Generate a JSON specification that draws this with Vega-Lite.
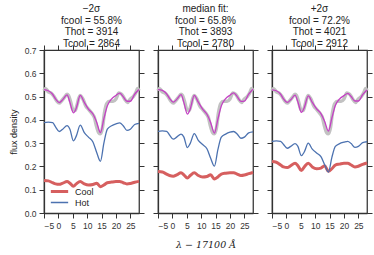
{
"$schema":"https://vega.github.io/schema/vega-lite/v6.json",
"padding":{"left":8,"top":3,"right":0,"bottom":4},
"datasets":{
"obs":[
{"x":-5,"y":0.525},{"x":-4.5,"y":0.535},{"x":-3.5,"y":0.52},{"x":-2.5,"y":0.515},{"x":-1.5,"y":0.5},{"x":-0.5,"y":0.48},{"x":0.3,"y":0.472},{"x":1,"y":0.48},{"x":2,"y":0.495},{"x":3,"y":0.51},{"x":3.5,"y":0.505},{"x":4.2,"y":0.48},{"x":5,"y":0.445},{"x":5.8,"y":0.44},{"x":6.5,"y":0.465},{"x":7.5,"y":0.505},{"x":8.5,"y":0.49},{"x":9.5,"y":0.46},{"x":10.5,"y":0.445},{"x":11.5,"y":0.43},{"x":12.5,"y":0.41},{"x":13.3,"y":0.37},{"x":14,"y":0.345},{"x":14.6,"y":0.34},{"x":15.3,"y":0.365},{"x":16,"y":0.43},{"x":16.8,"y":0.47},{"x":17.8,"y":0.48},{"x":19,"y":0.48},{"x":20,"y":0.49},{"x":21,"y":0.515},{"x":22,"y":0.51},{"x":23,"y":0.49},{"x":24,"y":0.475},{"x":25,"y":0.49},{"x":26,"y":0.5},{"x":27,"y":0.52},{"x":27.5,"y":0.535},{"x":28,"y":0.525}
],
"model":[
{"p":1,"x":-5,"Fit":0.53,"Hot":0.388,"Cool":0.14},
{"p":1,"x":-3.5,"Fit":0.525,"Hot":0.39,"Cool":0.138},
{"p":1,"x":-2,"Fit":0.51,"Hot":0.388,"Cool":0.13},
{"p":1,"x":-1,"Fit":0.49,"Hot":0.37,"Cool":0.125},
{"p":1,"x":0.3,"Fit":0.474,"Hot":0.35,"Cool":0.123},
{"p":1,"x":1.5,"Fit":0.487,"Hot":0.36,"Cool":0.128},
{"p":1,"x":3,"Fit":0.507,"Hot":0.375,"Cool":0.135},
{"p":1,"x":4,"Fit":0.475,"Hot":0.36,"Cool":0.128},
{"p":1,"x":5.2,"Fit":0.43,"Hot":0.31,"Cool":0.115},
{"p":1,"x":6.2,"Fit":0.45,"Hot":0.33,"Cool":0.125},
{"p":1,"x":7.6,"Fit":0.505,"Hot":0.377,"Cool":0.135},
{"p":1,"x":9,"Fit":0.475,"Hot":0.345,"Cool":0.125},
{"p":1,"x":10.5,"Fit":0.445,"Hot":0.325,"Cool":0.12},
{"p":1,"x":12,"Fit":0.425,"Hot":0.305,"Cool":0.122},
{"p":1,"x":13.3,"Fit":0.39,"Hot":0.26,"Cool":0.128},
{"p":1,"x":14.6,"Fit":0.345,"Hot":0.222,"Cool":0.113},
{"p":1,"x":15.8,"Fit":0.405,"Hot":0.3,"Cool":0.12},
{"p":1,"x":17,"Fit":0.46,"Hot":0.36,"Cool":0.13},
{"p":1,"x":18.5,"Fit":0.49,"Hot":0.375,"Cool":0.133},
{"p":1,"x":20,"Fit":0.505,"Hot":0.383,"Cool":0.135},
{"p":1,"x":21.3,"Fit":0.515,"Hot":0.387,"Cool":0.135},
{"p":1,"x":22.5,"Fit":0.5,"Hot":0.375,"Cool":0.13},
{"p":1,"x":23.8,"Fit":0.48,"Hot":0.355,"Cool":0.125},
{"p":1,"x":25,"Fit":0.48,"Hot":0.36,"Cool":0.127},
{"p":1,"x":26.5,"Fit":0.51,"Hot":0.38,"Cool":0.132},
{"p":1,"x":28,"Fit":0.53,"Hot":0.385,"Cool":0.136},
{"p":2,"x":-5,"Fit":0.53,"Hot":0.351,"Cool":0.178},
{"p":2,"x":-3.5,"Fit":0.527,"Hot":0.353,"Cool":0.176},
{"p":2,"x":-2,"Fit":0.512,"Hot":0.351,"Cool":0.167},
{"p":2,"x":-1,"Fit":0.492,"Hot":0.335,"Cool":0.161},
{"p":2,"x":0.3,"Fit":0.476,"Hot":0.317,"Cool":0.158},
{"p":2,"x":1.5,"Fit":0.488,"Hot":0.326,"Cool":0.164},
{"p":2,"x":3,"Fit":0.508,"Hot":0.339,"Cool":0.173},
{"p":2,"x":4,"Fit":0.474,"Hot":0.326,"Cool":0.164},
{"p":2,"x":5.2,"Fit":0.425,"Hot":0.281,"Cool":0.15},
{"p":2,"x":6.2,"Fit":0.447,"Hot":0.299,"Cool":0.161},
{"p":2,"x":7.6,"Fit":0.505,"Hot":0.341,"Cool":0.173},
{"p":2,"x":9,"Fit":0.476,"Hot":0.312,"Cool":0.161},
{"p":2,"x":10.5,"Fit":0.446,"Hot":0.294,"Cool":0.155},
{"p":2,"x":12,"Fit":0.424,"Hot":0.276,"Cool":0.157},
{"p":2,"x":13.3,"Fit":0.388,"Hot":0.235,"Cool":0.164},
{"p":2,"x":14.6,"Fit":0.343,"Hot":0.201,"Cool":0.146},
{"p":2,"x":15.8,"Fit":0.403,"Hot":0.272,"Cool":0.155},
{"p":2,"x":17,"Fit":0.46,"Hot":0.326,"Cool":0.167},
{"p":2,"x":18.5,"Fit":0.491,"Hot":0.339,"Cool":0.171},
{"p":2,"x":20,"Fit":0.506,"Hot":0.347,"Cool":0.173},
{"p":2,"x":21.3,"Fit":0.516,"Hot":0.35,"Cool":0.173},
{"p":2,"x":22.5,"Fit":0.5,"Hot":0.339,"Cool":0.167},
{"p":2,"x":23.8,"Fit":0.479,"Hot":0.321,"Cool":0.161},
{"p":2,"x":25,"Fit":0.48,"Hot":0.326,"Cool":0.163},
{"p":2,"x":26.5,"Fit":0.51,"Hot":0.344,"Cool":0.169},
{"p":2,"x":28,"Fit":0.532,"Hot":0.348,"Cool":0.174},
{"p":3,"x":-5,"Fit":0.529,"Hot":0.308,"Cool":0.221},
{"p":3,"x":-3.5,"Fit":0.525,"Hot":0.31,"Cool":0.218},
{"p":3,"x":-2,"Fit":0.51,"Hot":0.308,"Cool":0.206},
{"p":3,"x":-1,"Fit":0.49,"Hot":0.294,"Cool":0.198},
{"p":3,"x":0.3,"Fit":0.475,"Hot":0.278,"Cool":0.195},
{"p":3,"x":1.5,"Fit":0.486,"Hot":0.286,"Cool":0.203},
{"p":3,"x":3,"Fit":0.506,"Hot":0.298,"Cool":0.214},
{"p":3,"x":4,"Fit":0.477,"Hot":0.286,"Cool":0.203},
{"p":3,"x":5.2,"Fit":0.432,"Hot":0.246,"Cool":0.182},
{"p":3,"x":6.2,"Fit":0.452,"Hot":0.262,"Cool":0.198},
{"p":3,"x":7.6,"Fit":0.503,"Hot":0.3,"Cool":0.214},
{"p":3,"x":9,"Fit":0.475,"Hot":0.274,"Cool":0.198},
{"p":3,"x":10.5,"Fit":0.447,"Hot":0.258,"Cool":0.19},
{"p":3,"x":12,"Fit":0.427,"Hot":0.242,"Cool":0.193},
{"p":3,"x":13.3,"Fit":0.393,"Hot":0.207,"Cool":0.203},
{"p":3,"x":14.6,"Fit":0.352,"Hot":0.176,"Cool":0.179},
{"p":3,"x":15.8,"Fit":0.408,"Hot":0.239,"Cool":0.19},
{"p":3,"x":17,"Fit":0.462,"Hot":0.286,"Cool":0.206},
{"p":3,"x":18.5,"Fit":0.49,"Hot":0.298,"Cool":0.21},
{"p":3,"x":20,"Fit":0.504,"Hot":0.304,"Cool":0.214},
{"p":3,"x":21.3,"Fit":0.514,"Hot":0.308,"Cool":0.214},
{"p":3,"x":22.5,"Fit":0.5,"Hot":0.298,"Cool":0.206},
{"p":3,"x":23.8,"Fit":0.481,"Hot":0.282,"Cool":0.198},
{"p":3,"x":25,"Fit":0.481,"Hot":0.286,"Cool":0.201},
{"p":3,"x":26.5,"Fit":0.508,"Hot":0.302,"Cool":0.209},
{"p":3,"x":28,"Fit":0.528,"Hot":0.306,"Cool":0.215}
]},
"hconcat":[
{"width":95,"height":163,
 "title":{"text":["−2σ","fcool = 55.8%","Thot = 3914","Tcool = 2864"]},
 "layer":[
  {"data":{"name":"obs"},"mark":{"type":"line","color":"#c2c2c2","strokeWidth":3.5,"interpolate":"monotone"},
   "encoding":{"x":{"field":"x","type":"quantitative","scale":{"domain":[-5,28],"nice":false,"zero":false},"axis":{"orient":"bottom","values":[-5,0,5,10,15,20,25],"title":null}},
    "y":{"field":"y","type":"quantitative","scale":{"domain":[0,0.7],"nice":false,"zero":false},"axis":{"orient":"left","values":[0,0.1,0.2,0.3,0.4,0.5,0.6,0.7],"format":".1f","title":"flux density"}}}},
  {"data":{"name":"model"},"transform":[{"filter":"datum.p==1"},{"fold":["Cool","Hot"],"as":["comp","flux"]}],
   "mark":{"type":"line","interpolate":"monotone"},
   "encoding":{"x":{"field":"x","type":"quantitative","axis":null},"y":{"field":"flux","type":"quantitative","axis":null},
    "color":{"field":"comp","type":"nominal","scale":{"domain":["Cool","Hot"],"range":["#d65f5f","#4c72b0"]},"legend":{"orient":"bottom-left","title":null,"symbolType":"stroke","symbolSize":300,"offset":5,"padding":0,"rowPadding":0,"clipHeight":11,"labelOffset":5,"encode":{"symbols":{"update":{"strokeWidth":{"signal":"datum.value === 'Cool' ? 3 : 1.3"}}}}}},
    "strokeWidth":{"field":"comp","type":"nominal","scale":{"domain":["Cool","Hot"],"range":[3,1.3]},"legend":null}}},
  {"data":{"name":"model"},"transform":[{"filter":"datum.p==1"}],"mark":{"type":"line","color":"#c43fc4","strokeWidth":1.3,"interpolate":"monotone"},
   "encoding":{"x":{"field":"x","type":"quantitative","axis":{"orient":"top","labels":false,"values":[-5,0,5,10,15,20,25],"title":null,"domain":false,"labelPadding":0}},
    "y":{"field":"Fit","type":"quantitative","axis":{"orient":"right","labels":false,"values":[0,0.1,0.2,0.3,0.4,0.5,0.6,0.7],"title":null,"domain":false,"labelPadding":0}}}}
 ],
 "resolve":{"axis":{"x":"independent","y":"independent"}}
},
{"width":95,"height":163,
 "title":{"text":["median fit:","fcool = 65.8%","Thot = 3893","Tcool = 2780"]},
 "layer":[
  {"data":{"name":"obs"},"mark":{"type":"line","color":"#c2c2c2","strokeWidth":3.5,"interpolate":"monotone"},
   "encoding":{"x":{"field":"x","type":"quantitative","scale":{"domain":[-5,28],"nice":false,"zero":false},"axis":{"orient":"bottom","values":[-5,0,5,10,15,20,25],"title":"λ − 17100 Å","titleFont":"DejaVu Serif","titleFontStyle":"italic","titleFontSize":9.5,"titlePadding":10}},
    "y":{"field":"y","type":"quantitative","scale":{"domain":[0,0.7],"nice":false,"zero":false},"axis":{"orient":"left","labels":false,"values":[0,0.1,0.2,0.3,0.4,0.5,0.6,0.7],"title":null,"labelPadding":0}}}},
  {"data":{"name":"model"},"transform":[{"filter":"datum.p==2"},{"fold":["Cool","Hot"],"as":["comp","flux"]}],
   "mark":{"type":"line","interpolate":"monotone"},
   "encoding":{"x":{"field":"x","type":"quantitative","axis":null},"y":{"field":"flux","type":"quantitative","axis":null},
    "color":{"field":"comp","type":"nominal","scale":{"domain":["Cool","Hot"],"range":["#d65f5f","#4c72b0"]},"legend":null},
    "strokeWidth":{"field":"comp","type":"nominal","scale":{"domain":["Cool","Hot"],"range":[3,1.3]},"legend":null}}},
  {"data":{"name":"model"},"transform":[{"filter":"datum.p==2"}],"mark":{"type":"line","color":"#c43fc4","strokeWidth":1.3,"interpolate":"monotone"},
   "encoding":{"x":{"field":"x","type":"quantitative","axis":{"orient":"top","labels":false,"values":[-5,0,5,10,15,20,25],"title":null,"domain":false,"labelPadding":0}},
    "y":{"field":"Fit","type":"quantitative","axis":{"orient":"right","labels":false,"values":[0,0.1,0.2,0.3,0.4,0.5,0.6,0.7],"title":null,"domain":false,"labelPadding":0}}}}
 ],
 "resolve":{"axis":{"x":"independent","y":"independent"}}
},
{"width":95,"height":163,
 "title":{"text":["+2σ","fcool = 72.2%","Thot = 4021","Tcool = 2912"]},
 "layer":[
  {"data":{"name":"obs"},"mark":{"type":"line","color":"#c2c2c2","strokeWidth":3.5,"interpolate":"monotone"},
   "encoding":{"x":{"field":"x","type":"quantitative","scale":{"domain":[-5,28],"nice":false,"zero":false},"axis":{"orient":"bottom","values":[-5,0,5,10,15,20,25],"title":null}},
    "y":{"field":"y","type":"quantitative","scale":{"domain":[0,0.7],"nice":false,"zero":false},"axis":{"orient":"left","labels":false,"values":[0,0.1,0.2,0.3,0.4,0.5,0.6,0.7],"title":null,"labelPadding":0}}}},
  {"data":{"name":"model"},"transform":[{"filter":"datum.p==3"},{"fold":["Cool","Hot"],"as":["comp","flux"]}],
   "mark":{"type":"line","interpolate":"monotone"},
   "encoding":{"x":{"field":"x","type":"quantitative","axis":null},"y":{"field":"flux","type":"quantitative","axis":null},
    "color":{"field":"comp","type":"nominal","scale":{"domain":["Cool","Hot"],"range":["#d65f5f","#4c72b0"]},"legend":null},
    "strokeWidth":{"field":"comp","type":"nominal","scale":{"domain":["Cool","Hot"],"range":[3,1.3]},"legend":null}}},
  {"data":{"name":"model"},"transform":[{"filter":"datum.p==3"}],"mark":{"type":"line","color":"#c43fc4","strokeWidth":1.3,"interpolate":"monotone"},
   "encoding":{"x":{"field":"x","type":"quantitative","axis":{"orient":"top","labels":false,"values":[-5,0,5,10,15,20,25],"title":null,"domain":false,"labelPadding":0}},
    "y":{"field":"Fit","type":"quantitative","axis":{"orient":"right","labels":false,"values":[0,0.1,0.2,0.3,0.4,0.5,0.6,0.7],"title":null,"domain":false,"labelPadding":0}}}}
 ],
 "resolve":{"axis":{"x":"independent","y":"independent"}}
}
],
"resolve":{"scale":{"color":"independent","strokeWidth":"independent"},"legend":{"color":"independent","strokeWidth":"independent"}},
"config":{
 "view":{"stroke":"#333","strokeWidth":1.25},
 "concat":{"spacing":3},
 "axis":{"domainColor":"#333","domainWidth":1.25,"tickColor":"#333","tickWidth":1,"tickSize":5,"grid":false,"labelFont":"Liberation Sans","labelFontSize":8.5,"labelColor":"#333","labelPadding":3,"titleFont":"Liberation Sans","titleFontSize":9,"titleFontWeight":"normal","titleColor":"#222","titlePadding":6},
 "legend":{"labelFont":"Liberation Sans","labelFontSize":9,"labelColor":"#222"},
 "title":{"font":"Liberation Sans","fontSize":10,"fontWeight":"normal","color":"#222","lineHeight":11.5,"offset":-4}
}
}
